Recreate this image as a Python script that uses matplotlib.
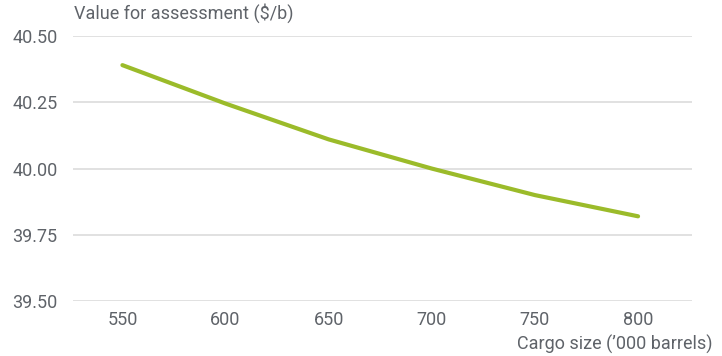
import matplotlib.pyplot as plt

# cargo size vs value for assessment
cargo_size = [550, 600, 650, 700, 750, 800]
value = [40.39, 40.245, 40.11, 40.00, 39.90, 39.82]
y_ticks = [39.50, 39.75, 40.00, 40.25, 40.50]

text_color = '#5f6369'
line_color = '#9bbb2a'
grid_color = '#dcdcdc'

plt.rcParams['font.family'] = ['Roboto', 'DejaVu Sans']

fig = plt.figure(figsize=(7.22, 3.56), dpi=100)
ax = fig.add_axes([0.101, 0.154, 0.857, 0.745])

ax.plot(cargo_size, value, color=line_color, linewidth=3, solid_capstyle='round')

ax.set_xlim(526, 826)
ax.set_ylim(39.5, 40.5)
ax.set_xticks(cargo_size)
ax.set_yticks(y_ticks)
ax.set_yticklabels(['%.2f' % t for t in y_ticks])
ax.grid(axis='y', color=grid_color, linewidth=1.2)
ax.set_axisbelow(True)
for s in ax.spines.values():
    s.set_visible(False)
ax.tick_params(axis='both', length=0, labelsize=13, colors=text_color)
ax.tick_params(axis='y', pad=11)
ax.tick_params(axis='x', pad=7)

fig.text(0.102, 0.935, 'Value for assessment ($/b)', fontsize=13,
         color=text_color, ha='left', va='bottom')
fig.text(0.987, 0.017, "Cargo size (\u2019000 barrels)", fontsize=13,
         color=text_color, ha='right', va='baseline')

fig.savefig('out.png', dpi=100)
